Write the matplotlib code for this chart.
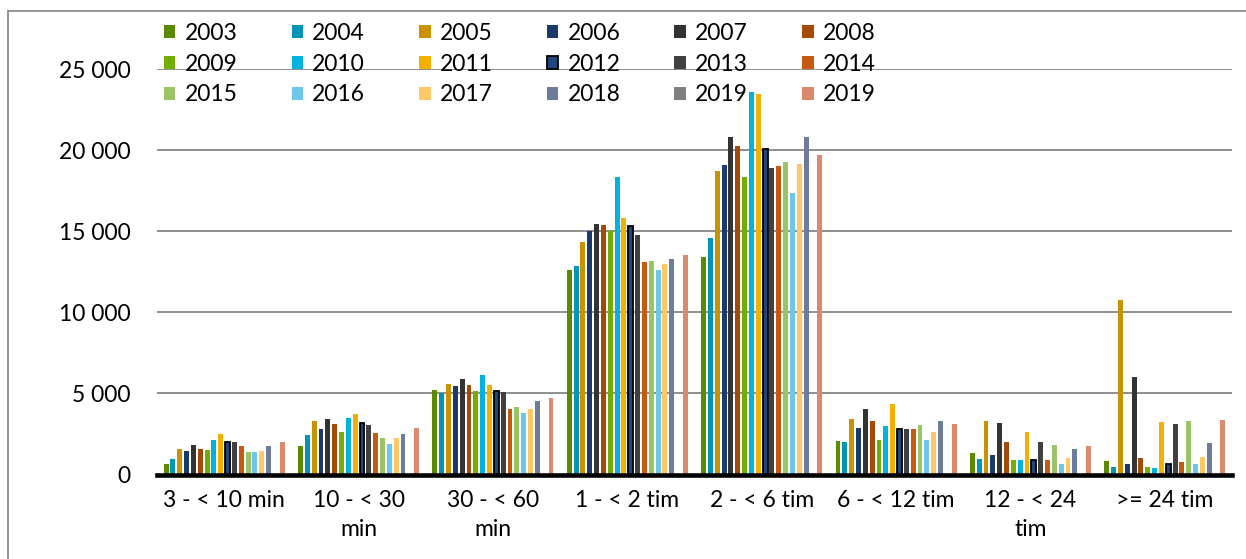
import matplotlib
matplotlib.use("Agg")
import matplotlib.pyplot as plt
from matplotlib.lines import Line2D
from matplotlib.ticker import FuncFormatter
import numpy as np

plt.rcParams['font.family'] = ['Lato', 'DejaVu Sans']

categories = ["3 - < 10 min", "10 - < 30\nmin", "30 - < 60\nmin", "1 - < 2 tim",
              "2 - < 6 tim", "6 - < 12 tim", "12 - < 24\ntim", ">= 24 tim"]

series_names = ["2003", "2004", "2005", "2006", "2007", "2008",
                "2009", "2010", "2011", "2012", "2013", "2014",
                "2015", "2016", "2017", "2018", "2019", "2019"]

v2003 = [660, 1730, 5200, 12610, 13430, 2070, 1350, 810]
v2004 = [970, 2410, 5030, 12840, 14620, 2025, 980, 460]
v2005 = [1600, 3320, 5590, 14320, 18750, 3400, 3300, 10770]
v2006 = [1420, 2830, 5470, 15020, 19100, 2850, 1180, 630]
v2007 = [1810, 3400, 5920, 15490, 20850, 4020, 3200, 6020]
v2008 = [1600, 3090, 5550, 15370, 20280, 3280, 1990, 1040]
v2009 = [1520, 2600, 5140, 15040, 18350, 2130, 900, 480]
v2010 = [2140, 3500, 6130, 18370, 23610, 2975, 875, 400]
v2011 = [2470, 3750, 5550, 15860, 23490, 4370, 2600, 3260]
v2012 = [1975, 3170, 5160, 15350, 20110, 2830, 875, 630]
v2013 = [2020, 3030, 5070, 14770, 18920, 2790, 2000, 3140]
v2014 = [1770, 2580, 4060, 13090, 19040, 2790, 875, 790]
v2015 = [1360, 2250, 4180, 13150, 19310, 3040, 1820, 3280]
v2016 = [1360, 1900, 3810, 12650, 17360, 2150, 650, 670]
v2017 = [1440, 2250, 4060, 13020, 19150, 2620, 1000, 1100]
v2018 = [1730, 2490, 4530, 13310, 20810, 3320, 1600, 1930]
v2019a = [0, 0, 0, 0, 0, 0, 0, 0]
v2019b = [1975, 2900, 4700, 13520, 19700, 3120, 1740, 3380]

values = [v2003, v2004, v2005, v2006, v2007, v2008, v2009, v2010, v2011,
          v2012, v2013, v2014, v2015, v2016, v2017, v2018, v2019a, v2019b]

colors = ['#5B8A00', '#0095B6', '#C99200', '#1A3A6A', '#333333', '#A34A07',
          '#72AE00', '#00B2DE', '#F4B000', '#1F467F', '#404040', '#C55A11',
          '#9BC467', '#6CC7EA', '#FFC768', '#6E7B99', '#7F7F7F', '#DC8A6E']

yticks = [0, 5000, 10000, 15000, 20000, 25000]

FS = 16.5

fig = plt.figure(figsize=(12.46, 5.59), dpi=100)
ax = fig.add_axes([157/1246, 1 - 474.5/559, (1232-157)/1246, (474.5-69.4)/559])

n = len(values)
slot = 0.915 / n
bw = slot * 0.72
x = np.arange(len(categories))
handles = []
for i, (vals, c) in enumerate(zip(values, colors)):
    off = (i - (n - 1) / 2) * slot
    if i == 9:
        b = ax.bar(x + off, vals, width=bw, color=c, edgecolor='black', linewidth=1.3, zorder=3,
                   label=series_names[i])
    else:
        b = ax.bar(x + off, vals, width=bw, color=c, linewidth=0, zorder=3, label=series_names[i])
    handles.append(b)

ax.set_xlim(-0.5, len(categories) - 0.5)
ax.set_ylim(0, 25000)
ax.set_yticks(yticks)
ax.yaxis.set_major_formatter(FuncFormatter(lambda v, p: f"{int(v):,}".replace(",", " ")))
ax.yaxis.grid(True, color='#868686', linewidth=1.3, zorder=0)
ax.set_axisbelow(True)
ax.set_xticks(x)
ax.set_xticklabels(categories, linespacing=1.5)
ax.tick_params(axis='both', length=0, labelsize=FS, colors='black')
ax.tick_params(axis='y', pad=19)
ax.tick_params(axis='x', pad=11)
for s in ['left', 'right', 'top']:
    ax.spines[s].set_visible(False)
ax.spines['bottom'].set_color('black')
ax.spines['bottom'].set_linewidth(3.3)
ax.spines['bottom'].set_zorder(4)

# legend, row-wise order
ncol = 6
nrow = 3
order = [r * ncol + c for c in range(ncol) for r in range(nrow)]
hs = [handles[i] for i in order]
ls = [series_names[i] for i in order]
leg = fig.legend(hs, ls, ncol=ncol, loc='upper left', bbox_to_anchor=(164/1246, 1 - 23/559),
                 frameon=False, fontsize=FS, handlelength=0.5, handleheight=0.5,
                 handletextpad=0.4, columnspacing=2.36, labelspacing=0.42, borderpad=0,
                 borderaxespad=0)

# chart frame
fig.add_artist(Line2D([8/1246, 8/1246], [0, 1 - 10.7/559], color='#8c8c8c', linewidth=1.3,
                      transform=fig.transFigure))
fig.add_artist(Line2D([8/1246, 1], [1 - 10.7/559, 1 - 10.7/559], color='#8c8c8c', linewidth=1.3,
                      transform=fig.transFigure))

fig.savefig("out.png", dpi=100)
